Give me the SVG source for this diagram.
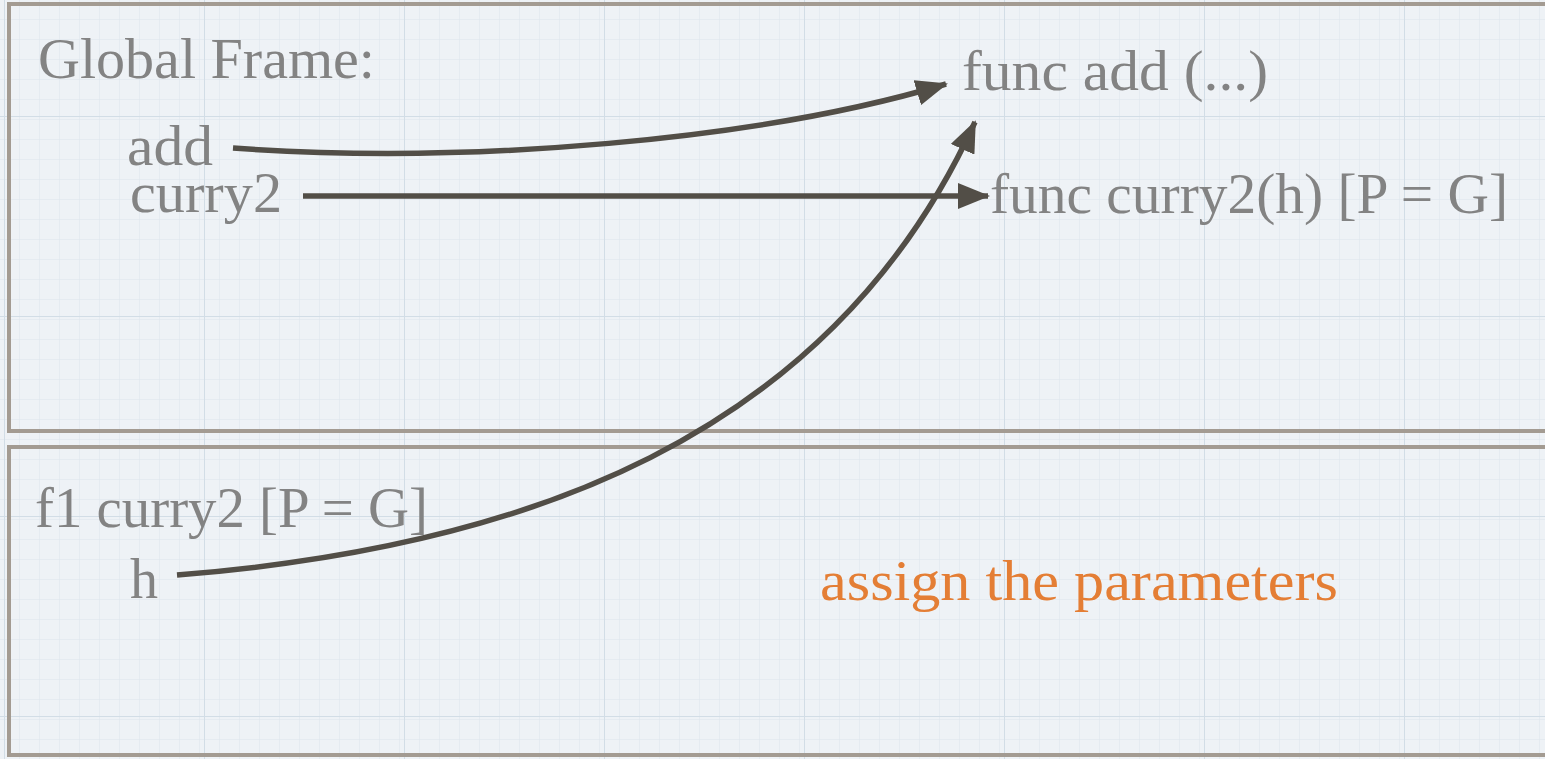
<svg xmlns="http://www.w3.org/2000/svg" width="1545" height="759" viewBox="0 0 1545 759">
<style>
.frame{fill:none;stroke:#a39b92;stroke-width:4}
.t{font-family:"Liberation Serif","Times New Roman",serif;font-size:56px;fill:#838383}
.o{fill:#e47e35}
.c{fill:none;stroke:#524e47;stroke-width:5.5}
</style>
<defs>
<pattern id="minor" width="20" height="20" patternUnits="userSpaceOnUse">
<path d="M20 0V20M0 20H20" stroke="#dde4ec" stroke-width="1" fill="none"/>
</pattern>
<pattern id="major" width="200" height="200" patternUnits="userSpaceOnUse" x="5" y="-83">
<path d="M200 0V200M0 200H200" stroke="#d2dde6" stroke-width="2" fill="none"/>
</pattern>
<marker id="ah" markerUnits="userSpaceOnUse" markerWidth="32" markerHeight="26" refX="30" refY="13" orient="auto">
<path d="M0,0 L32,13 L0,26 Z" fill="#524e47"/>
</marker>
</defs>
<rect width="1545" height="759" fill="#eef2f6"/>
<rect width="1545" height="759" fill="url(#minor)"/>
<rect width="1545" height="759" fill="url(#major)"/>
<g id="global-frame">
<rect class="frame" x="9" y="4" width="1550" height="427"/>
<text class="t" x="38" y="78" textLength="337" lengthAdjust="spacingAndGlyphs">Global Frame:</text>
</g>
<g id="var-add"><text class="t" x="127" y="165" textLength="86" lengthAdjust="spacingAndGlyphs">add</text></g>
<g id="var-curry2"><text class="t" x="130" y="212" textLength="152" lengthAdjust="spacingAndGlyphs">curry2</text></g>
<g id="func-add"><text class="t" x="962" y="90" textLength="306" lengthAdjust="spacingAndGlyphs">func add (...)</text></g>
<g id="func-curry2"><text class="t" x="990" y="213" textLength="518" lengthAdjust="spacingAndGlyphs">func curry2(h) [P = G]</text></g>
<g id="f1-frame">
<rect class="frame" x="9" y="447" width="1550" height="308"/>
<text class="t" x="35" y="527" textLength="393" lengthAdjust="spacingAndGlyphs">f1 curry2 [P = G]</text>
</g>
<g id="var-h"><text class="t" x="130" y="598" textLength="28" lengthAdjust="spacingAndGlyphs">h</text></g>
<g id="note"><text class="t o" x="820" y="600" textLength="518" lengthAdjust="spacingAndGlyphs">assign the parameters</text></g>
<g id="connectors">
<path class="c" d="M233,148 C470,165 760,140 946,84" marker-end="url(#ah)"/>
<path class="c" d="M303,196 L988,196" marker-end="url(#ah)"/>
<path class="c" d="M177,575 C520,548 830,440 975,122" marker-end="url(#ah)"/>
</g>
</svg>
